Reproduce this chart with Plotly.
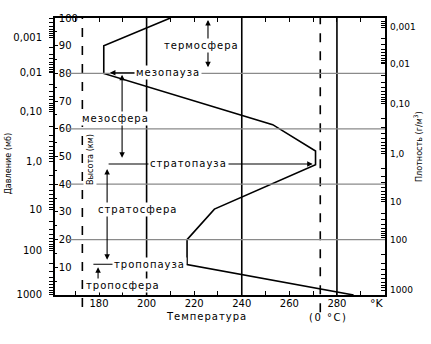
import numpy as np
import plotly.graph_objects as go

# ---- data ----
temperature_K = [287, 217, 217, 228.5, 271, 271, 253, 182, 182, 210]
altitude_km = [0, 11, 20, 31, 47, 52, 61.5, 80, 90, 100]

temp_tick_vals = [180, 200, 220, 240, 260, 280]
altitude_tick_vals = [10, 20, 30, 40, 50, 60, 70, 80, 90, 100]

pressure_labels = ["1000", "100", "10", "1,0", "0,10", "0,01", "0,001"]
pressure_alt = [0.1, 16, 30.9, 48.3, 66.2, 80.2, 93.1]

density_labels = ["1000", "100", "10", "1,0", "0,10", "0,01", "0,001"]
density_alt = [1.8, 20, 33.7, 51, 69.1, 83.4, 96.7]

solid_T = [200, 240, 280]
dashed_T = [173, 273]
dashed_bottom = [-0.043, -0.062]
grid_alt = [20, 40, 60, 80]

# layer names: (text, T, z)
layer_text = [
    ("термосфера", 222.9, 90.2),
    ("мезопауза", 209.2, 80.2),
    ("мезосфера", 187.1, 63.7),
    ("стратопауза", 217.8, 47.3),
    ("стратосфера", 196.0, 30.8),
    ("тропопауза", 201.4, 11.1),
    ("тропосфера", 189.9, 3.6),
]
# double arrows: (T, z_bottom, z_top)
double_arrows = [
    (225.8, 81.7, 99.3),
    (189.7, 49.0, 79.5),
    (183.4, 12.2, 45.5),
    (179.6, 0.4, 10.0),
]
# single arrows / marker lines: (T_tail, T_head, z, head)
single_arrows = [
    (200.0, 184.6, 80.2, True),
    (183.4, 269.8, 47.3, True),
    (177.0, 217.0, 11.1, False),
]

FONT = "DejaVu Sans, Verdana, sans-serif"
NARROW = "DejaVu Sans Condensed, Liberation Sans Narrow, DejaVu Sans, sans-serif"


def log_minor(alts):
    levels = list(alts) + [alts[-1] + (alts[-1] - alts[-2])]
    out = []
    for lo, hi in zip(levels[:-1], levels[1:]):
        for m in range(2, 10):
            z = hi - (hi - lo) * np.log10(m)
            if 0 <= z <= 100:
                out.append(float(z))
    return out


def spaced(t, ls=1):
    return f'<span style="letter-spacing:{ls}px">{t}</span>'


fig = go.Figure()
fig.add_trace(go.Scatter(x=temperature_K, y=altitude_km, mode="lines",
                         line=dict(color="black", width=1.6),
                         hoverinfo="skip", showlegend=False))
for ya in ["y2", "y3"]:
    fig.add_trace(go.Scatter(x=[temperature_K[0]], y=[altitude_km[0]], yaxis=ya,
                             mode="markers", marker=dict(opacity=0),
                             hoverinfo="skip", showlegend=False))

shapes = []
for t in solid_T:
    shapes.append(dict(type="line", xref="x", yref="y", x0=t, x1=t, y0=0, y1=100,
                       line=dict(color="black", width=1.6)))
for t, yb in zip(dashed_T, dashed_bottom):
    shapes.append(dict(type="line", xref="x", yref="paper", x0=t, x1=t, y0=yb, y1=1,
                       line=dict(color="black", width=1.6, dash="dash")))
for z in grid_alt:
    shapes.append(dict(type="line", xref="x", yref="y", x0=166.5, x1=300.2, y0=z, y1=z,
                       line=dict(color="#8a8a8a", width=1.2)))

ann = []
for (t, z0, z1) in double_arrows:
    ann.append(dict(x=t, y=z1, ax=t, ay=z0, xref="x", yref="y", axref="x", ayref="y",
                    text="", showarrow=True, arrowside="end+start", arrowhead=2,
                    startarrowhead=2, arrowsize=1, startarrowsize=1, arrowwidth=1.1,
                    arrowcolor="black"))
for (t0, t1, z, head) in single_arrows:
    ann.append(dict(x=t1, y=z, ax=t0, ay=z, xref="x", yref="y", axref="x", ayref="y",
                    text="", showarrow=True, arrowhead=2 if head else 0, arrowsize=1,
                    arrowwidth=1.1, arrowcolor="black"))
for (txt, t, z) in layer_text:
    ann.append(dict(x=t, y=z, xref="x", yref="y", text=spaced(txt), showarrow=False,
                    bgcolor="white", borderpad=1, xanchor="center", yanchor="middle",
                    font=dict(family=FONT, size=10, color="black")))


def paper_text(text, x, y, size, family=FONT, angle=0, bg=None):
    d = dict(x=x, y=y, xref="paper", yref="paper", text=text, textangle=angle,
             showarrow=False, xanchor="center", yanchor="middle",
             font=dict(family=family, size=size, color="black"))
    if bg:
        d["bgcolor"] = bg
    return d


ann += [
    paper_text("Давление (мб)", -0.142, 0.475, 9, NARROW, -90),
    paper_text("Высота (км)", 0.106, 0.491, 9, NARROW, -90, "white"),
    paper_text("Плотность (г/м<sup>3</sup>)", 1.1, 0.534, 9, NARROW, -90),
    paper_text(spaced("Температура"), 0.458, -0.079, 10),
    paper_text(spaced("(0 °C)", 1.5), 0.827, -0.082, 10),
    paper_text("°K", 0.976, -0.029, 11),
]

fig.update_layout(
    width=431, height=344,
    margin=dict(l=55, r=46, t=16, b=49),
    paper_bgcolor="white", plot_bgcolor="white",
    showlegend=False,
    shapes=shapes, annotations=ann,
    xaxis=dict(range=[161.5, 300.2], tickmode="array", tickvals=temp_tick_vals,
               ticks="inside", ticklen=4, tickcolor="black", showgrid=False, zeroline=False,
               showline=True, linecolor="black", linewidth=1.6, mirror="allticks",
               ticklabelstandoff=-2,
               minor=dict(dtick=10, tick0=180, ticks="inside", ticklen=4, tickcolor="black",
                          showgrid=False),
               tickfont=dict(family=FONT, size=10, color="black")),
    yaxis=dict(range=[0, 100], tickmode="array", tickvals=altitude_tick_vals,
               ticks="inside", ticklen=3, tickcolor="black", ticklabelposition="inside",
               ticklabeloverflow="allow", showgrid=False, zeroline=False,
               showline=True, linecolor="black", linewidth=1.6, mirror=True,
               minor=dict(dtick=5, tick0=0, ticks="inside", ticklen=2, tickcolor="black",
                          showgrid=False),
               tickfont=dict(family=FONT, size=10, color="black")),
    yaxis2=dict(range=[0, 100], overlaying="y", side="left", anchor="x",
                tickmode="array", tickvals=pressure_alt, ticktext=pressure_labels,
                ticks="outside", ticklen=5, tickcolor="black", ticklabelstandoff=5,
                showgrid=False, zeroline=False, showline=False,
                minor=dict(tickmode="array", tickvals=log_minor(pressure_alt),
                           ticks="outside", ticklen=5, tickcolor="black", showgrid=False),
                tickfont=dict(family=FONT, size=10, color="black")),
    yaxis3=dict(range=[0, 100], overlaying="y", side="right", anchor="x",
                tickmode="array", tickvals=density_alt, ticktext=density_labels,
                ticks="inside", ticklen=4, tickcolor="black", ticklabelstandoff=4,
                showgrid=False, zeroline=False, showline=False,
                minor=dict(tickmode="array", tickvals=log_minor(density_alt),
                           ticks="inside", ticklen=4, tickcolor="black", showgrid=False),
                tickfont=dict(family=FONT, size=9, color="black")),
)

fig.write_html("out.html")
